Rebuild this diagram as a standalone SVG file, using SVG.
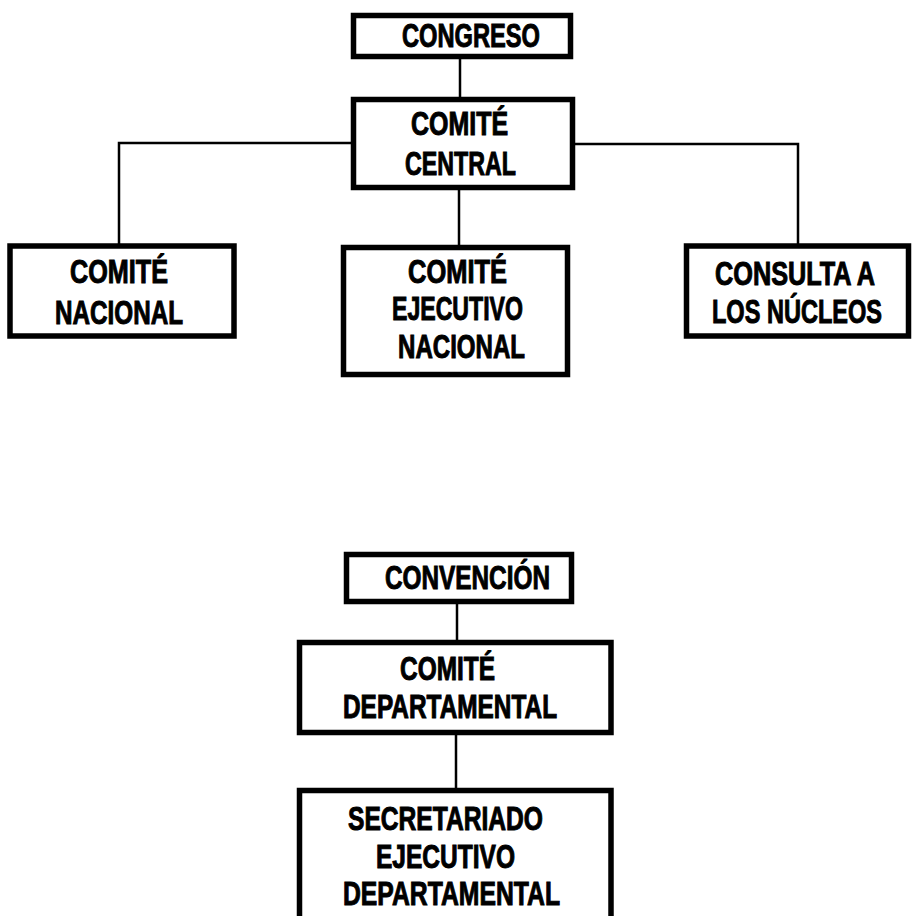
<svg xmlns="http://www.w3.org/2000/svg" width="912" height="916" viewBox="0 0 912 916">
<style>
.box{fill:#fff;stroke:#000;stroke-width:5.5}
.lbl{font-family:"Liberation Sans",Arial,sans-serif;font-weight:bold;font-size:33px;fill:#000;stroke:#000;stroke-width:1}
.con{fill:none;stroke:#000;stroke-width:2.5}
</style>
<rect x="0" y="0" width="912" height="916" fill="#fff"/>
<g id="connectors">
<line class="con" x1="460" y1="58" x2="460" y2="98"/>
<polyline class="con" points="352,143 119,143 119,244"/>
<polyline class="con" points="574,144 798,144 798,244"/>
<line class="con" x1="459" y1="189" x2="459" y2="246"/>
<line class="con" x1="457" y1="603" x2="457" y2="641"/>
<line class="con" x1="456" y1="734" x2="456" y2="789"/>
</g>
<g id="congreso">
<rect class="box" x="353.5" y="15.5" width="217" height="41"/>
<text class="lbl" transform="translate(402,47) scale(0.78,1)" textLength="176.9" lengthAdjust="spacingAndGlyphs">CONGRESO</text>
</g>
<g id="comite-central">
<rect class="box" x="353.5" y="99.5" width="219" height="88"/>
<text class="lbl" transform="translate(411,135) scale(0.78,1)" textLength="124.4" lengthAdjust="spacingAndGlyphs">COMITÉ</text>
<text class="lbl" transform="translate(405,175) scale(0.78,1)" textLength="142.3" lengthAdjust="spacingAndGlyphs">CENTRAL</text>
</g>
<g id="comite-nacional">
<rect class="box" x="10" y="246" width="224" height="90"/>
<text class="lbl" transform="translate(70,283) scale(0.78,1)" textLength="125.6" lengthAdjust="spacingAndGlyphs">COMITÉ</text>
<text class="lbl" transform="translate(55,324) scale(0.78,1)" textLength="164.1" lengthAdjust="spacingAndGlyphs">NACIONAL</text>
</g>
<g id="comite-ejecutivo-nacional">
<rect class="box" x="343.5" y="247.5" width="224" height="127"/>
<text class="lbl" transform="translate(408,283) scale(0.78,1)" textLength="126.9" lengthAdjust="spacingAndGlyphs">COMITÉ</text>
<text class="lbl" transform="translate(392,320) scale(0.78,1)" textLength="167.9" lengthAdjust="spacingAndGlyphs">EJECUTIVO</text>
<text class="lbl" transform="translate(398,358) scale(0.78,1)" textLength="162.8" lengthAdjust="spacingAndGlyphs">NACIONAL</text>
</g>
<g id="consulta-nucleos">
<rect class="box" x="686.5" y="246" width="222" height="90"/>
<text class="lbl" transform="translate(715,285) scale(0.78,1)" textLength="205.1" lengthAdjust="spacingAndGlyphs">CONSULTA A</text>
<text class="lbl" transform="translate(712,323) scale(0.78,1)" textLength="217.9" lengthAdjust="spacingAndGlyphs">LOS NÚCLEOS</text>
</g>
<g id="convencion">
<rect class="box" x="346.5" y="554.5" width="225" height="47"/>
<text class="lbl" transform="translate(385,589) scale(0.78,1)" textLength="211.5" lengthAdjust="spacingAndGlyphs">CONVENCIÓN</text>
</g>
<g id="comite-departamental">
<rect class="box" x="299.5" y="642.5" width="311.5" height="90"/>
<text class="lbl" transform="translate(400,680) scale(0.78,1)" textLength="121.8" lengthAdjust="spacingAndGlyphs">COMITÉ</text>
<text class="lbl" transform="translate(343,718) scale(0.78,1)" textLength="274.4" lengthAdjust="spacingAndGlyphs">DEPARTAMENTAL</text>
</g>
<g id="secretariado">
<rect class="box" x="299.5" y="790.5" width="311.5" height="135"/>
<text class="lbl" transform="translate(348,830) scale(0.78,1)" textLength="250" lengthAdjust="spacingAndGlyphs">SECRETARIADO</text>
<text class="lbl" transform="translate(376,868) scale(0.78,1)" textLength="178.2" lengthAdjust="spacingAndGlyphs">EJECUTIVO</text>
<text class="lbl" transform="translate(343,905) scale(0.78,1)" textLength="278.2" lengthAdjust="spacingAndGlyphs">DEPARTAMENTAL</text>
</g>
</svg>
